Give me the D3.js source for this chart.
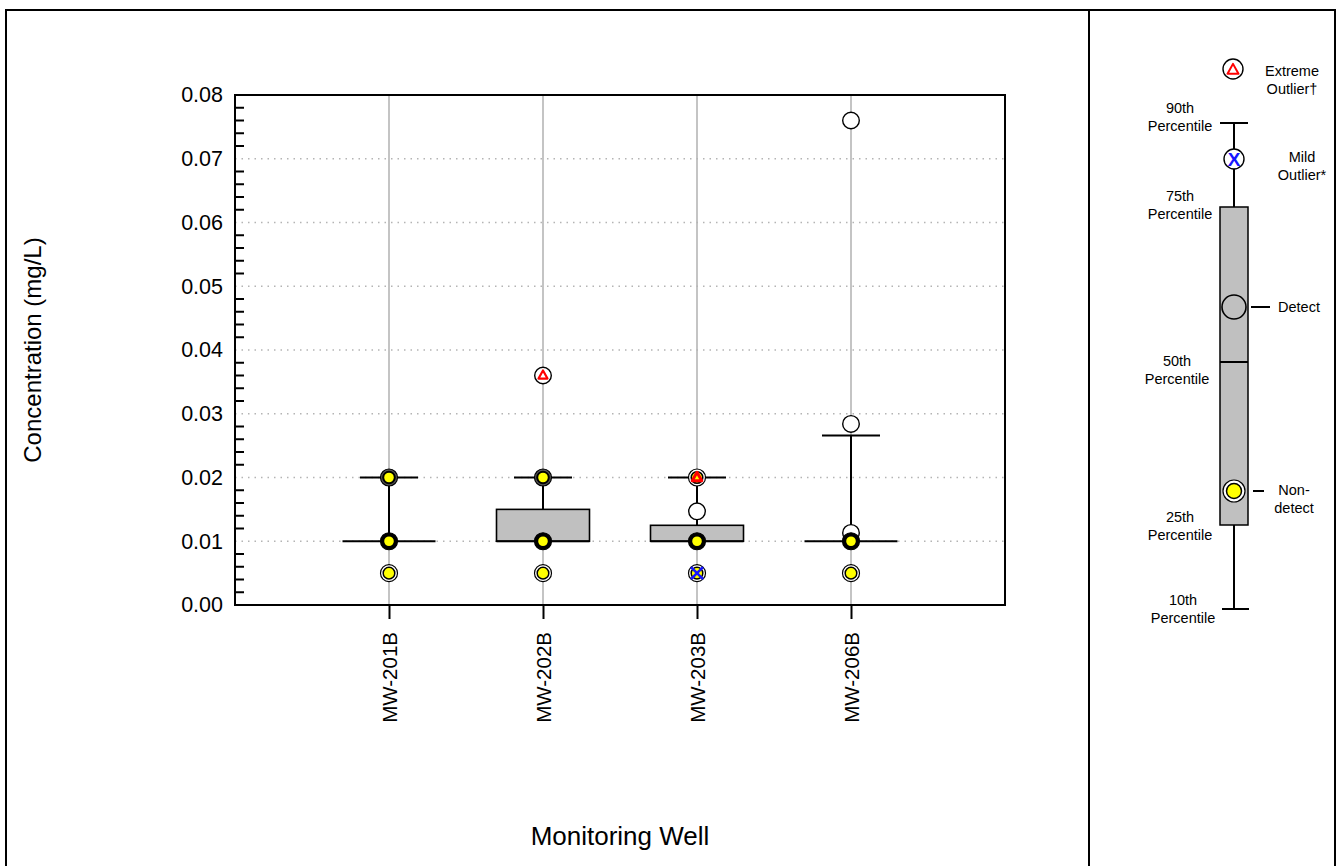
<!DOCTYPE html>
<html><head><meta charset="utf-8">
<script src="https://cdn.jsdelivr.net/npm/d3@7"></script>
<style>body{margin:0;background:#fff}svg{display:block;font-family:Arial,"Liberation Sans",sans-serif}</style>
</head><body>
<svg id="c" width="1336" height="866"></svg>
<script>
// ---- data ----
const categories = ["MW-201B","MW-202B","MW-203B","MW-206B"];
const p10 = [0.01, 0.01, 0.01, 0.01];
const p25 = [0.01, 0.01, 0.01, 0.01];
const p50 = [0.01, 0.01, 0.01, 0.01];
const p75 = [0.01, 0.015, 0.0125, 0.01];
const p90 = [0.02, 0.02, 0.02, 0.0266];
// non-detects (well, value, flag)
const ndWell  = ["MW-201B","MW-201B","MW-201B","MW-201B","MW-201B","MW-201B","MW-201B",
                 "MW-202B","MW-202B","MW-202B","MW-202B","MW-202B","MW-202B","MW-202B",
                 "MW-203B","MW-203B","MW-203B","MW-203B","MW-203B","MW-203B",
                 "MW-206B","MW-206B","MW-206B","MW-206B","MW-206B"];
const ndValue = [0.02,0.02,0.01,0.01,0.01,0.01,0.005,
                 0.02,0.02,0.01,0.01,0.01,0.01,0.005,
                 0.02,0.01,0.01,0.01,0.01,0.005,
                 0.01,0.01,0.01,0.01,0.005];
const ndFlag  = ["","","","","","","",
                 "","","","","","","",
                 "extreme","","","","","mild",
                 "","","","",""];
// detects
const detWell  = ["MW-202B","MW-203B","MW-206B","MW-206B","MW-206B"];
const detValue = [0.036, 0.0147, 0.076, 0.0284, 0.0113];
const detFlag  = ["extreme","","","",""];
const yTicks = [0,0.01,0.02,0.03,0.04,0.05,0.06,0.07,0.08];
const yTitle = "Concentration (mg/L)";
const xTitle = "Monitoring Well";
const legendLabels = {p90:["90th","Percentile"],p75:["75th","Percentile"],p50:["50th","Percentile"],
  p25:["25th","Percentile"],p10:["10th","Percentile"],ext:["Extreme","Outlier\u2020"],
  mild:["Mild","Outlier*"],det:["Detect"],nd:["Non-","detect"]};

// ---- drawing ----
const svg = d3.select("#c");
const L=235,R=1005,T=95,B=605;
const x = d3.scaleLinear().domain([0,5]).range([L,R]);
const y = d3.scaleLinear().domain([0,0.08]).range([B,T]);
const xi = w => x(categories.indexOf(w)+1);
const BW=46.5, CW=29;

// outer frame & divider
svg.append("rect").attr("x",6).attr("y",10).attr("width",1329).attr("height",870)
  .attr("fill","none").attr("stroke","#000").attr("stroke-width",2);
svg.append("line").attr("x1",1089).attr("x2",1089).attr("y1",10).attr("y2",866)
  .attr("stroke","#000").attr("stroke-width",2);

const g = svg.append("g");
// grid
g.selectAll(".vg").data(categories).join("line")
  .attr("x1",d=>xi(d)).attr("x2",d=>xi(d)).attr("y1",T).attr("y2",B)
  .attr("stroke","#c4c4c4").attr("stroke-width",2);
g.selectAll(".hg").data(yTicks).join("line")
  .attr("x1",L).attr("x2",R).attr("y1",d=>y(d)).attr("y2",d=>y(d))
  .attr("stroke","#b4b4b4").attr("stroke-width",1.3).attr("stroke-dasharray","1.5,5");

// whiskers
categories.forEach((c,i)=>{
  const cx = x(i+1);
  if (p90[i]>p75[i]) {
    g.append("line").attr("x1",cx).attr("x2",cx).attr("y1",y(p75[i])).attr("y2",y(p90[i])).attr("stroke","#000").attr("stroke-width",2);
    g.append("line").attr("x1",cx-CW).attr("x2",cx+CW).attr("y1",y(p90[i])).attr("y2",y(p90[i])).attr("stroke","#000").attr("stroke-width",2);
  }
  if (p10[i]<p25[i]) {
    g.append("line").attr("x1",cx).attr("x2",cx).attr("y1",y(p25[i])).attr("y2",y(p10[i])).attr("stroke","#000").attr("stroke-width",2);
    g.append("line").attr("x1",cx-CW).attr("x2",cx+CW).attr("y1",y(p10[i])).attr("y2",y(p10[i])).attr("stroke","#000").attr("stroke-width",2);
  }
  if (p75[i]>p25[i]) {
    g.append("rect").attr("x",cx-BW).attr("width",2*BW).attr("y",y(p75[i])).attr("height",y(p25[i])-y(p75[i]))
      .attr("fill","#c0c0c0").attr("stroke","#000").attr("stroke-width",1.6);
  }
  g.append("line").attr("x1",cx-BW).attr("x2",cx+BW).attr("y1",y(p50[i])).attr("y2",y(p50[i])).attr("stroke","#000").attr("stroke-width",2);
});

function triangle(sel, cx, cy, s, fill, sw){
  const h = s*0.9;
  sel.append("path").attr("d",`M${cx},${cy-h*0.62}L${cx+s/2},${cy+h*0.38}L${cx-s/2},${cy+h*0.38}Z`)
    .attr("fill",fill).attr("stroke","#f00").attr("stroke-width",sw).attr("stroke-linejoin","round");
}
function xmark(sel, cx, cy, s){
  sel.append("path").attr("d",`M${cx-s},${cy-s}L${cx+s},${cy+s}M${cx+s},${cy-s}L${cx-s},${cy+s}`)
    .attr("stroke","#1515ff").attr("stroke-width",2.6).attr("fill","none");
}
function ndMarker(sel, cx, cy, r1, r2, flag, n){
  const gap = n>=3 ? "#000" : n===2 ? "#555" : "#fff";
  sel.append("circle").attr("cx",cx).attr("cy",cy).attr("r",r1).attr("fill",gap).attr("stroke","#000").attr("stroke-width",1.2);
  sel.append("circle").attr("cx",cx).attr("cy",cy).attr("r",r2).attr("fill","#ffff00").attr("stroke","#000").attr("stroke-width",n>=2?2:1.5);
  if(flag==="extreme") triangle(sel,cx,cy,9.5,"#ffff00",3);
  if(flag==="mild") xmark(sel,cx,cy,6);
}
function detMarker(sel, cx, cy, r, flag, fill){
  sel.append("circle").attr("cx",cx).attr("cy",cy).attr("r",r).attr("fill",fill).attr("stroke","#000").attr("stroke-width",1.4);
  if(flag==="extreme") triangle(sel,cx,cy,9,"#fff",2.2);
  if(flag==="mild") xmark(sel,cx,cy,5.5);
}
detWell.forEach((w,i)=>detMarker(g, xi(w), y(detValue[i]), 8.3, detFlag[i], "#fff"));
// group nondetects by well+value so overlapping points render darker
const ndGroups = d3.rollups(ndWell.map((w,i)=>({w,v:ndValue[i],f:ndFlag[i]})), a=>({n:a.length, f:a.map(d=>d.f).find(f=>f)||""}), d=>d.w+"|"+d.v);
ndGroups.forEach(([k,o])=>{
  const [w,v] = k.split("|");
  ndMarker(g, xi(w), y(+v), 8.5, 5.8, o.f, o.n);
});

// axes frame
g.append("rect").attr("x",L).attr("y",T).attr("width",R-L).attr("height",B-T)
  .attr("fill","none").attr("stroke","#000").attr("stroke-width",2);
// y axis (labels, no major tick marks) + inward minor ticks
const yAxis = d3.axisLeft(y).tickValues(yTicks).tickFormat(d3.format(".2f")).tickSize(0).tickPadding(12);
const ya = svg.append("g").attr("transform",`translate(${L},0)`).call(yAxis);
ya.select(".domain").remove();
ya.selectAll("text").attr("font-size",21.5).attr("font-family","Arial,'Liberation Sans',sans-serif").attr("fill","#000");
const minor = d3.range(0,0.0801,0.002).filter(v=>Math.abs(v/0.01-Math.round(v/0.01))>1e-6);
svg.selectAll(".mt").data(minor).join("line")
  .attr("x1",L).attr("x2",L+9).attr("y1",d=>y(d)).attr("y2",d=>y(d)).attr("stroke","#000").attr("stroke-width",2);
// x axis
const xAxis = d3.axisBottom(x).tickValues(categories.map((c,i)=>i+1)).tickFormat(d=>categories[d-1]).tickSize(14).tickPadding(0);
const xa = svg.append("g").attr("transform",`translate(0,${B})`).call(xAxis);
xa.select(".domain").remove();
xa.selectAll("line").attr("stroke","#000").attr("stroke-width",2);
xa.selectAll("text").attr("font-size",20.5).attr("font-family","Arial,'Liberation Sans',sans-serif").attr("fill","#000")
  .attr("text-anchor","end").attr("transform","translate(0,27) rotate(-90)").attr("x",0).attr("y",0).attr("dy","0.35em");

// titles
svg.append("text").attr("transform","translate(41,350) rotate(-90)").attr("text-anchor","middle")
  .attr("font-size",24).text(yTitle);
svg.append("text").attr("x",620).attr("y",845).attr("text-anchor","middle").attr("font-size",26).text(xTitle);

// ---- legend ----
const lg = svg.append("g");
const lx = 1234, lyv = {p90:123, p75:207, p50:362, p25:525, p10:609};
lg.append("line").attr("x1",lx).attr("x2",lx).attr("y1",lyv.p90).attr("y2",lyv.p10).attr("stroke","#000").attr("stroke-width",2);
lg.append("line").attr("x1",lx-14).attr("x2",lx+14).attr("y1",lyv.p90).attr("y2",lyv.p90).attr("stroke","#000").attr("stroke-width",2);
lg.append("line").attr("x1",lx-12).attr("x2",lx+15).attr("y1",lyv.p10).attr("y2",lyv.p10).attr("stroke","#000").attr("stroke-width",2);
lg.append("rect").attr("x",lx-14).attr("width",28).attr("y",lyv.p75).attr("height",lyv.p25-lyv.p75)
  .attr("fill","#c0c0c0").attr("stroke","#000").attr("stroke-width",1.5);
lg.append("line").attr("x1",lx-14).attr("x2",lx+14).attr("y1",lyv.p50).attr("y2",lyv.p50).attr("stroke","#000").attr("stroke-width",2);
// markers
lg.append("circle").attr("cx",1233).attr("cy",69).attr("r",10).attr("fill","#fff").attr("stroke","#000").attr("stroke-width",1.4);
triangle(lg,1233,70,11,"#fff",2);
lg.append("circle").attr("cx",1234).attr("cy",159).attr("r",10).attr("fill","#fff").attr("stroke","#000").attr("stroke-width",1.4);
lg.append("text").attr("x",1234).attr("y",159).attr("dy","0.36em").attr("text-anchor","middle").attr("font-size",19)
  .attr("font-weight","bold").attr("fill","#1515ff").text("X");
lg.append("circle").attr("cx",1234).attr("cy",307).attr("r",12).attr("fill","none").attr("stroke","#000").attr("stroke-width",1.6);
lg.append("line").attr("x1",1251).attr("x2",1270).attr("y1",307).attr("y2",307).attr("stroke","#000").attr("stroke-width",2);
ndMarker(lg,1234,491,11,7.5,"",1);
lg.append("line").attr("x1",1253).attr("x2",1264).attr("y1",491).attr("y2",491).attr("stroke","#000").attr("stroke-width",2);

function mtext(xp, yp, lines, anchor){
  const t = lg.append("text").attr("x",xp).attr("y",yp).attr("text-anchor",anchor).attr("font-size",14.5);
  lines.forEach((s,k)=>t.append("tspan").attr("x",xp).attr("dy",k?18:0).text(s));
}
mtext(1180,113,legendLabels.p90,"middle");
mtext(1180,201,legendLabels.p75,"middle");
mtext(1177,366,legendLabels.p50,"middle");
mtext(1180,522,legendLabels.p25,"middle");
mtext(1183,605,legendLabels.p10,"middle");
mtext(1292,76,legendLabels.ext,"middle");
mtext(1302,162,legendLabels.mild,"middle");
mtext(1278,312,legendLabels.det,"start");
mtext(1294,495,legendLabels.nd,"middle");
</script>
</body></html>
